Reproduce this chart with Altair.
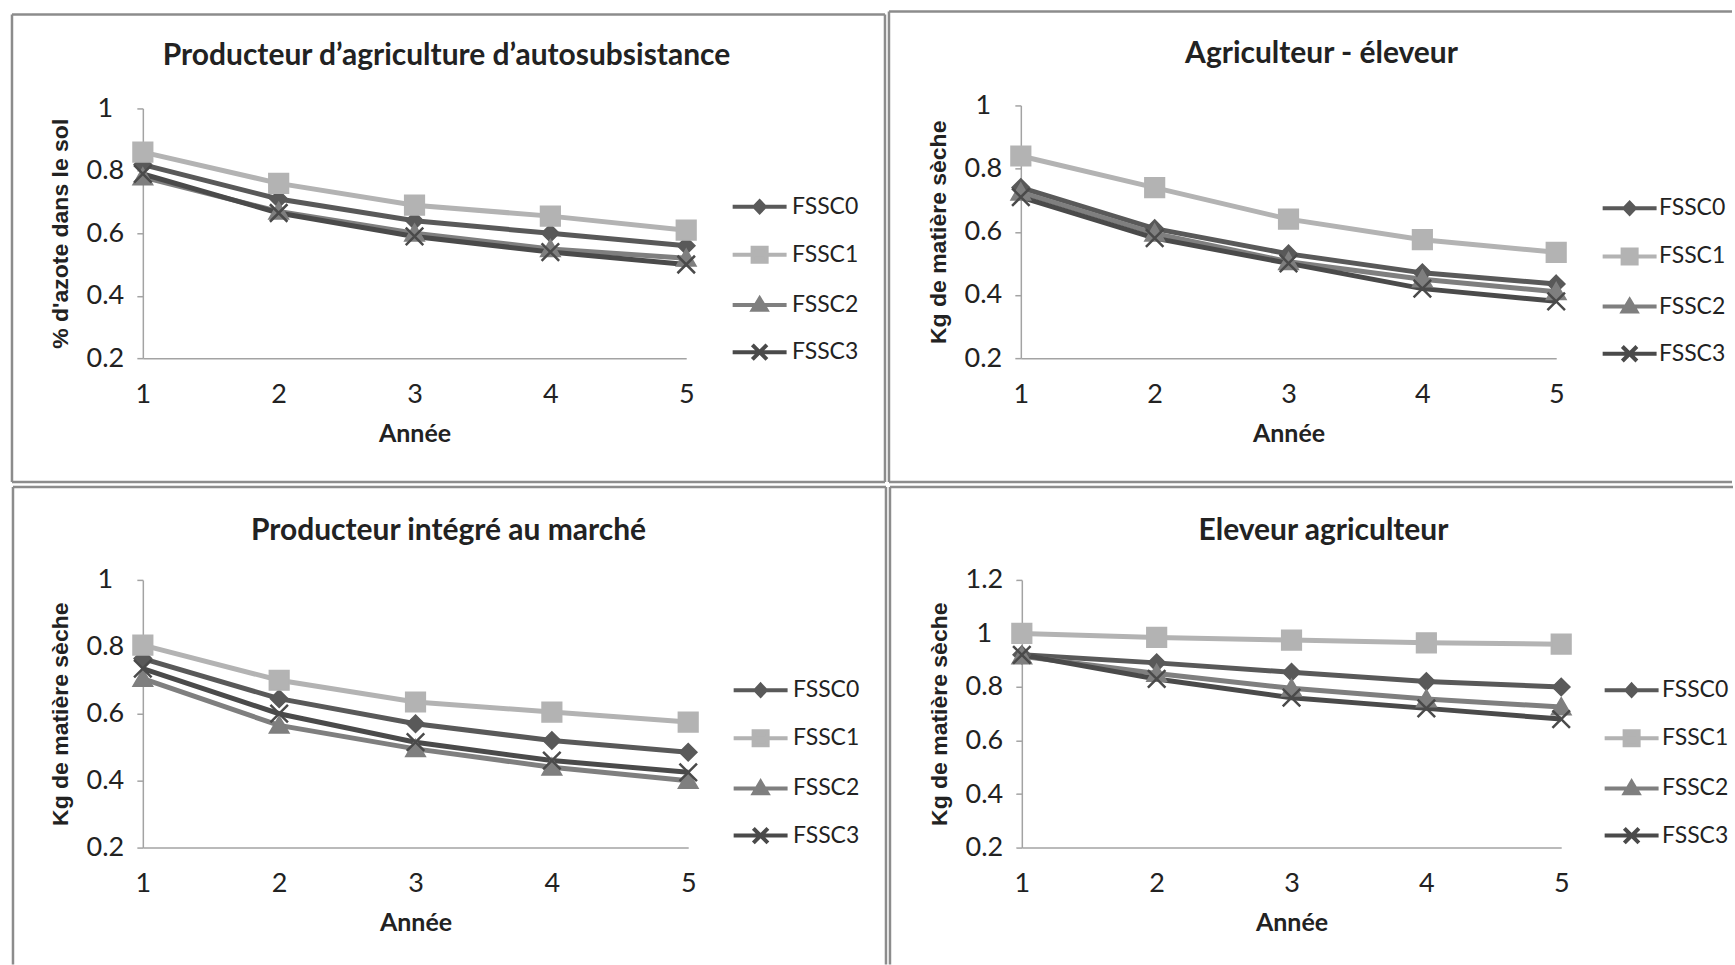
import altair as alt
import pandas as pd

# ---------------- data ----------------
years = [1, 2, 3, 4, 5]
series_names = ["FSSC0", "FSSC1", "FSSC2", "FSSC3"]

panel_titles = [
    "Producteur d\u2019agriculture d\u2019autosubsistance",
    "Agriculteur - \u00e9leveur",
    "Producteur int\u00e9gr\u00e9 au march\u00e9",
    "Eleveur agriculteur",
]
y_titles = [
    "% d'azote dans le sol",
    "Kg de mati\u00e8re s\u00e8che",
    "Kg de mati\u00e8re s\u00e8che",
    "Kg de mati\u00e8re s\u00e8che",
]
x_title = "Ann\u00e9e"

# Panel 1 : Producteur d'agriculture d'autosubsistance
p1_fssc0 = [0.82, 0.71, 0.64, 0.60, 0.56]
p1_fssc1 = [0.86, 0.76, 0.69, 0.655, 0.61]
p1_fssc2 = [0.78, 0.67, 0.60, 0.55, 0.52]
p1_fssc3 = [0.79, 0.665, 0.59, 0.54, 0.50]

# Panel 2 : Agriculteur - eleveur
p2_fssc0 = [0.74, 0.61, 0.53, 0.47, 0.435]
p2_fssc1 = [0.84, 0.74, 0.64, 0.575, 0.535]
p2_fssc2 = [0.725, 0.595, 0.505, 0.45, 0.41]
p2_fssc3 = [0.71, 0.58, 0.50, 0.42, 0.38]

# Panel 3 : Producteur integre au marche
p3_fssc0 = [0.765, 0.645, 0.57, 0.52, 0.485]
p3_fssc1 = [0.805, 0.70, 0.635, 0.605, 0.575]
p3_fssc2 = [0.705, 0.565, 0.495, 0.44, 0.40]
p3_fssc3 = [0.735, 0.60, 0.515, 0.46, 0.425]

# Panel 4 : Eleveur agriculteur
p4_fssc0 = [0.92, 0.89, 0.855, 0.82, 0.80]
p4_fssc1 = [1.0, 0.985, 0.975, 0.965, 0.96]
p4_fssc2 = [0.915, 0.85, 0.795, 0.755, 0.725]
p4_fssc3 = [0.92, 0.83, 0.76, 0.72, 0.68]

y_ticks_1 = [0.2, 0.4, 0.6, 0.8, 1.0]
y_ticks_4 = [0.2, 0.4, 0.6, 0.8, 1.0, 1.2]

# ---------------- styles ----------------
TXT = "#222222"
BORDER = "#8c8c8c"
AXIS = "#a3a3a3"
COLORS = ["#595959", "#b3b3b3", "#7f7f7f", "#4a4a4a"]
MARKERS = [
    "M0,-0.8L0.8,0L0,0.8L-0.8,0Z",
    "M-0.9,-0.9H0.9V0.9H-0.9Z",
    "M0,-0.85L0.9,0.7H-0.9Z",
    "M-0.8,-0.8L0.8,0.8M0.8,-0.8L-0.8,0.8",
]
LEG_PATHS = [
    "M-1,0H1M0,-0.2L0.19,0L0,0.2L-0.19,0Z",
    "M-1,0H1M-0.26,-0.26H0.26V0.26H-0.26Z",
    "M-1,0H1M0,-0.24L0.25,0.18H-0.25Z",
    "M-1,0H1M-0.27,-0.27L0.27,0.27M0.27,-0.27L-0.27,0.27",
]
one = pd.DataFrame({"k": [0]})


def rule(x1, x2, y1, y2, col=BORDER):
    return alt.Chart(one).mark_rule(color=col, strokeWidth=2.5).encode(
        x=alt.value(x1), x2=alt.value(x2), y=alt.value(y1), y2=alt.value(y2)
    )


def panel(values, title, ytitle, ydomain, yticks, W, H, g, top_gap=0):
    rows = []
    for s, vals in zip(series_names, values):
        for yr, v in zip(years, vals):
            rows.append({"year": yr, "value": v, "series": s})
    df = pd.DataFrame(rows)

    xenc = alt.X(
        "year:Q",
        scale=alt.Scale(domain=[1, 5], nice=False, zero=False),
        axis=alt.Axis(
            values=years, format="d", title=x_title, grid=False, ticks=False,
            labelFont="Lato", labelFontSize=27, labelColor=TXT, labelPadding=36,
            labelBaseline="middle", labelFlush=False, labelOverlap=False,
            titleFont="Lato", titleFontSize=25, titleFontWeight="bold", titleColor=TXT,
            titleY=75, titleBaseline="middle",
            domainColor=AXIS, domainWidth=1.5,
        ),
    )
    yscale = alt.Scale(domain=ydomain, nice=False, zero=False)
    if top_gap:
        yscale = alt.Scale(domain=ydomain, nice=False, zero=False, range=[H, top_gap])
    yenc = alt.Y(
        "value:Q",
        scale=yscale,
        axis=alt.Axis(
            values=yticks, format="~g", title=ytitle, grid=False,
            tickSize=6, tickColor=AXIS, tickWidth=1.5,
            labelFont="Lato", labelFontSize=27, labelColor=TXT, labelPadding=32,
            labelAlign="center", labelBaseline="middle", labelFlush=False, labelOverlap=False,
            titleFont="Liberation Sans", titleFontSize=23, titleFontWeight="bold", titleColor=TXT,
            titleAngle=270, titleX=-82, titleY=(H + top_gap) / 2, titleAlign="center", titleBaseline="middle",
            domainColor=AXIS, domainWidth=1.5,
        ),
    )

    layers = [rule(*r) for r in g["rules"]]
    layers.append(
        alt.Chart(one).mark_text(
            text=title, font="Lato", fontSize=30, fontWeight="bold", color=TXT,
            align="center", baseline="middle",
        ).encode(x=alt.value(g["tx"]), y=alt.value(g["ty"]))
    )
    # one line per series (constant colours, so no extra legend is created)
    for i, s in enumerate(series_names):
        layers.append(
            alt.Chart(df).transform_filter(alt.datum.series == s).mark_line(
                strokeWidth=5, color=COLORS[i]
            ).encode(x=xenc, y=yenc)
        )
    for i, s in enumerate(series_names):
        if i < 3:
            mk = alt.Chart(df).transform_filter(alt.datum.series == s).mark_point(
                shape=MARKERS[i], size=480, filled=True, opacity=1,
                color=COLORS[i], fill=COLORS[i], stroke=COLORS[i], strokeWidth=1.5,
            )
        else:
            mk = alt.Chart(df).transform_filter(alt.datum.series == s).mark_point(
                shape=MARKERS[i], size=480, filled=False, opacity=1,
                color=COLORS[i], stroke=COLORS[i], strokeWidth=2.5,
            )
        layers.append(mk.encode(x=xenc, y=yenc))

    leg = alt.Legend(
        orient="none", legendX=g["lx"] - 30.5, legendY=g["ly"] - 31, title=None, padding=0,
        labelFont="Lato", labelFontSize=23, labelColor=TXT, labelOffset=g["lo"], labelLimit=300,
        symbolSize=2916, symbolStrokeWidth=4, symbolOpacity=1, rowPadding=5.2,
    )
    layers.append(
        alt.Chart(df).transform_filter("false").mark_point(
            filled=True, opacity=1, strokeWidth=4, size=2916
        ).encode(
            shape=alt.Shape("series:N", scale=alt.Scale(domain=series_names, range=LEG_PATHS), legend=leg),
            fill=alt.Fill("series:N", scale=alt.Scale(domain=series_names, range=COLORS), legend=leg),
            stroke=alt.Stroke("series:N", scale=alt.Scale(domain=series_names, range=COLORS), legend=leg),
        )
    )
    return alt.layer(*layers).properties(width=W, height=H)


g1 = dict(
    rules=[(-131, 743, -91, -91), (-131, 743, 377, 377), (-131, -131, -91, 377), (743, 743, -91, 377)],
    tx=304, ty=-49, lx=619, ly=103.4, lo=3.5,
)
g2 = dict(
    rules=[(-132, 712, -94, -94), (-132, 712, 377, 377), (-132, -132, -94, 377)],
    tx=301, ty=-51, lx=611, ly=105, lo=0.5,
)
g3 = dict(
    rules=[(-130, 744, -93, -93), (-130, -130, -93, 385), (744, 744, -93, 385)],
    tx=306, ty=-49, lx=620, ly=112.4, lo=3.5,
)
g4 = dict(
    rules=[(-132, 712, -93, -93), (-132, -132, -93, 385)],
    tx=302, ty=-49, lx=612, ly=112.4, lo=1.5,
)

c1 = panel([p1_fssc0, p1_fssc1, p1_fssc2, p1_fssc3], panel_titles[0], y_titles[0], [0.2, 1.0], y_ticks_1, 544, 253, g1, top_gap=3)
c2 = panel([p2_fssc0, p2_fssc1, p2_fssc2, p2_fssc3], panel_titles[1], y_titles[1], [0.2, 1.0], y_ticks_1, 536, 253, g2)
c3 = panel([p3_fssc0, p3_fssc1, p3_fssc2, p3_fssc3], panel_titles[2], y_titles[2], [0.2, 1.0], y_ticks_1, 546, 268, g3)
c4 = panel([p4_fssc0, p4_fssc1, p4_fssc2, p4_fssc3], panel_titles[3], y_titles[3], [0.2, 1.2], y_ticks_4, 540, 268, g4)

IND = dict(fill="independent", stroke="independent", shape="independent")

top = alt.hconcat(c1, c2, spacing=0).resolve_scale(**IND).resolve_legend(**IND)
bottom = alt.hconcat(c3, c4, spacing=0).resolve_scale(**IND).resolve_legend(**IND)
chart = alt.vconcat(top, bottom, spacing=1).resolve_scale(**IND).resolve_legend(**IND).properties(
    padding={"left": 10, "top": 9, "right": 0, "bottom": 0},
    background="white",
).configure_view(stroke=None)

chart.save("out.html", embed_options={"renderer": "svg", "actions": False})
